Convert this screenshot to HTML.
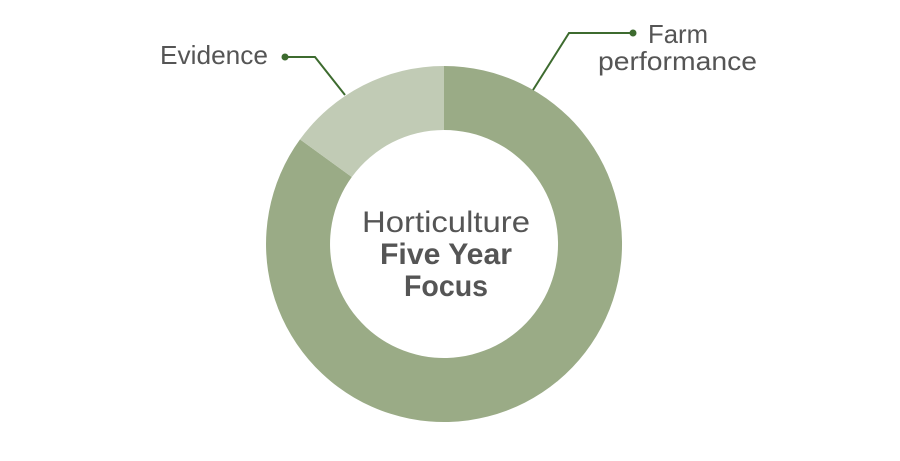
<!DOCTYPE html>
<html><head><meta charset="utf-8"><style>html,body{margin:0;padding:0;background:#fff}svg{display:block}</style></head>
<body>
<svg width="900" height="461" viewBox="0 0 900 461" xmlns="http://www.w3.org/2000/svg" font-family="'Liberation Sans', sans-serif" fill="#555">
<path d="M444 66 A178 178 0 1 1 300 139.4 L351.8 177 A114 114 0 1 0 444 130 Z" fill="#9aab86"/>
<path d="M300 139.4 A178 178 0 0 1 444 66 L444 130 A114 114 0 0 0 351.8 177 Z" fill="#c1cbb5"/>
<g stroke="#3d6b2f" stroke-width="2" fill="none">
<polyline points="285,57 315,57 345,95"/>
<polyline points="633,33 569,33 533,90"/>
</g>
<circle cx="285" cy="57" r="3.5" fill="#3d6b2f"/>
<circle cx="633" cy="33" r="3.5" fill="#3d6b2f"/>
<text x="160" y="64" font-size="26" textLength="108" lengthAdjust="spacingAndGlyphs">Evidence</text>
<text x="648" y="43" font-size="26" textLength="60" lengthAdjust="spacingAndGlyphs">Farm</text>
<text x="598" y="70" font-size="26" textLength="159" lengthAdjust="spacingAndGlyphs">performance</text>
<text x="362" y="232" font-size="30" textLength="168" lengthAdjust="spacingAndGlyphs">Horticulture</text>
<text x="380" y="264" font-size="30" font-weight="bold" textLength="132" lengthAdjust="spacingAndGlyphs">Five Year</text>
<text x="404" y="296" font-size="30" font-weight="bold" textLength="84" lengthAdjust="spacingAndGlyphs">Focus</text>
</svg>
</body></html>
